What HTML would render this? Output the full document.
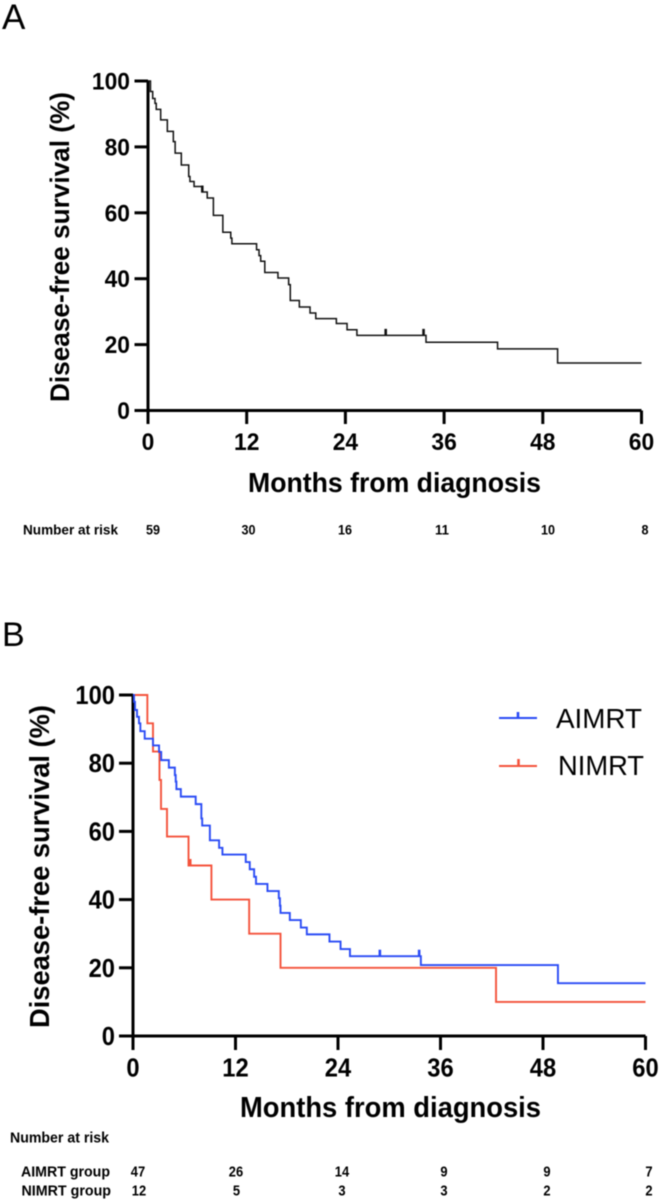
<!DOCTYPE html>
<html lang="en">
<head>
<meta charset="utf-8">
<title>Disease-free survival Kaplan-Meier curves</title>
<style>
html,body{margin:0;padding:0;background:#fff;width:661px;height:1201px;overflow:hidden}
svg{display:block;filter:blur(0.4px)}
text{font-family:"Liberation Sans",Arial,sans-serif;fill:#000}
.b{font-weight:700}
</style>
</head>
<body>
<svg id="figure" width="661" height="1201" viewBox="0 0 661 1201" xmlns="http://www.w3.org/2000/svg">
  <rect width="661" height="1201" fill="#fff"/>
  <text x="2" y="29" font-size="35">A</text>
  <text x="2" y="646" font-size="34">B</text>

  <g id="panelA"></g>
  <g id="panelB"></g>

  <text class="b" transform="translate(69,402) rotate(-90)" font-size="27" textLength="310" lengthAdjust="spacingAndGlyphs">Disease-free survival (%)</text>
  <text class="b" x="248" y="492" font-size="27.5" textLength="293" lengthAdjust="spacingAndGlyphs">Months from diagnosis</text>
  <text class="b" x="23" y="534.5" font-size="14" textLength="95" lengthAdjust="spacingAndGlyphs">Number at risk</text>

  <text class="b" transform="translate(49,1028) rotate(-90)" font-size="28" textLength="323" lengthAdjust="spacingAndGlyphs">Disease-free survival (%)</text>
  <text class="b" x="240" y="1117" font-size="29" textLength="301" lengthAdjust="spacingAndGlyphs">Months from diagnosis</text>
  <text class="b" x="10" y="1142.5" font-size="14.5" textLength="99" lengthAdjust="spacingAndGlyphs">Number at risk</text>
  <text class="b" x="21" y="1176.5" font-size="14.5" textLength="89" lengthAdjust="spacingAndGlyphs">AIMRT group</text>
  <text class="b" x="21.5" y="1195.5" font-size="14.5" textLength="89.5" lengthAdjust="spacingAndGlyphs">NIMRT group</text>

  <g>
    <g>
      <path d="M499 718H537" fill="none" stroke="#2a4bf5" stroke-width="2"/>
      <path d="M518 718V712" fill="none" stroke="#2a4bf5" stroke-width="2.6"/>
      <text x="556" y="728" font-size="28" textLength="86" lengthAdjust="spacingAndGlyphs">AIMRT</text>
    </g>
    <g>
      <path d="M499 766H537" fill="none" stroke="#f4533c" stroke-width="2"/>
      <path d="M518.5 766V759" fill="none" stroke="#f4533c" stroke-width="2.6"/>
      <text x="558" y="775" font-size="28" textLength="86" lengthAdjust="spacingAndGlyphs">NIMRT</text>
    </g>
  </g>
</svg>
<script>
const xTickLabels = [0, 12, 24, 36, 48, 60];
const yTickLabels = [0, 20, 40, 60, 80, 100];

const overallMonths = [0.3,0.57,0.85,1.0,1.54,2.35,3.08,3.3,4.05,4.95,5.1,5.6,6.55,7.2,7.95,9.1,10.06,10.2,13.2,13.5,13.7,14.2,15.8,17.1,17.3,18.4,19.7,20.4,22.9,24.2,25.4,33.8,42.5,49.8];
const overallSurvival = [96.8,94.7,93.2,91.4,88.2,84.7,81.6,78.1,74.5,71,69.5,68,66.3,64.5,59.2,54.1,52.3,50.6,48.8,47,45.3,41.9,40.2,38.2,33.4,31.4,29.6,27.9,26.4,24.5,22.8,20.7,18.7,14.4];
const overallCensored = [6.6, 28.9, 33.5];
const overallRisk = [59, 30, 16, 11, 10, 8];

const aimrtMonths = [0.12,0.23,0.47,0.7,0.86,1.37,2.34,3.05,3.3,4.2,4.9,5.0,5.08,5.6,7.34,8.0,8.1,9.0,10.08,10.47,13.2,13.67,14.18,14.4,15.74,17.07,17.2,17.27,18.36,19.65,20.35,23.0,24.3,25.4,33.7,49.75];
const aimrtSurvival = [98,95.6,93.6,91.7,89.4,87.2,85.2,83.3,80.9,78.7,76.5,74.6,72.4,70.2,68,63.8,61.7,57.4,55.2,53.2,51,48.9,46.7,44.6,42.5,40.4,38.2,36.1,34,31.8,29.8,27.7,25.5,23.4,20.8,15.5];
const aimrtCensored = [28.9, 33.5];
const aimrtRisk = [47, 26, 14, 9, 9, 7];

const nimrtMonths = [1.68,2.34,3.1,3.28,3.98,6.5,9.18,13.6,17.27,42.5];
const nimrtSurvival = [91.7,83.4,75.1,66.6,58.5,50,40,30,20,10];
const nimrtCensored = [6.7];
const nimrtRisk = [12, 5, 3, 3, 2, 2];

const NS = 'http://www.w3.org/2000/svg';

function scale(d0, d1, r0, r1) {
  return function (v) { return r0 + (v - d0) * (r1 - r0) / (d1 - d0); };
}

function drawLine(parent, d, color, width, name) {
  const p = document.createElementNS(NS, 'path');
  
  
  p.setAttribute('d', d);
  p.setAttribute('fill', 'none');
  p.setAttribute('stroke', color);
  p.setAttribute('stroke-width', width);
  parent.appendChild(p);
}

function drawText(parent, str, x, y, size, anchor, digitWidth, name) {
  const t = document.createElementNS(NS, 'text');
  
  
  t.setAttribute('class', 'b');
  t.setAttribute('x', x);
  t.setAttribute('y', y);
  t.setAttribute('font-size', size);
  t.setAttribute('text-anchor', anchor);
  t.setAttribute('textLength', str.length * digitWidth);
  t.setAttribute('lengthAdjust', 'spacingAndGlyphs');
  t.textContent = str;
  parent.appendChild(t);
}

function drawAxes(parent, x, y, tickLen, labelSize, digitWidth, yLabelX, xLabelY, axisWidth, digitShift) {
  const bx = x(0), by = y(0);
  drawLine(parent, 'M' + bx + ' ' + y(100) + 'V' + by + 'M' + x(0) + ' ' + by + 'H' + x(60), '#000', axisWidth, 'axis-lines');
  yTickLabels.forEach(function (v) {
    drawLine(parent, 'M' + (bx - tickLen) + ' ' + y(v) + 'H' + bx, '#000', axisWidth, 'y-tick-' + v);
    drawText(parent, String(v), yLabelX, y(v) + digitShift, labelSize, 'end', digitWidth, 'y-tick-label-' + v);
  });
  xTickLabels.forEach(function (v) {
    drawLine(parent, 'M' + x(v) + ' ' + by + 'V' + (by + tickLen), '#000', axisWidth, 'x-tick-' + v);
    drawText(parent, String(v), x(v), xLabelY, labelSize, 'middle', digitWidth, 'x-tick-label-' + v);
  });
}

function drawCurve(parent, x, y, months, survival, censored, color, width, markHeight, name) {
  let d = 'M' + x(0) + ' ' + y(100);
  months.forEach(function (m, i) {
    d += 'H' + x(m) + 'V' + y(survival[i]);
  });
  d += 'H' + x(60);
  drawLine(parent, d, color, width, name + '-curve');
  censored.forEach(function (c, i) {
    let level = 100;
    months.forEach(function (m, k) {
      if (m <= c) { level = survival[k]; }
    });
    drawLine(parent, 'M' + x(c) + ' ' + y(level) + 'V' + (y(level) - markHeight), color, 2.6, name + '-censor-mark-' + i);
  });
}

function drawRisk(parent, values, centers, rowY, size, digitWidth, name) {
  values.forEach(function (v, i) {
    drawText(parent, String(v), centers[i], rowY, size, 'middle', digitWidth, name + '-risk-' + xTickLabels[i]);
  });
}

const panelA = document.getElementById('panelA');
const xA = scale(0, 60, 148, 641.5);
const yA = scale(0, 100, 410.5, 81);
drawAxes(panelA, xA, yA, 13.5, 24.5, 12.7, 130, 450, 3, 8.5);
drawCurve(panelA, xA, yA, overallMonths, overallSurvival, overallCensored, '#111', 1.5, 6.5, 'overall');
drawRisk(panelA, overallRisk, [153, 248.5, 345, 442, 548, 645], 534.5, 14, 7, 'overall');

const panelB = document.getElementById('panelB');
const xB = scale(0, 60, 133, 645.5);
const yB = scale(0, 100, 1036, 695);
drawAxes(panelB, xB, yB, 14, 25.5, 13.2, 115, 1076.5, 3, 9);
drawCurve(panelB, xB, yB, nimrtMonths, nimrtSurvival, nimrtCensored, '#f4533c', 1.9, 6.5, 'nimrt');
drawCurve(panelB, xB, yB, aimrtMonths, aimrtSurvival, aimrtCensored, '#2a4bf5', 1.9, 6.5, 'aimrt');
drawRisk(panelB, aimrtRisk, [138, 236, 342, 444, 547, 649], 1176.5, 14.5, 7.2, 'aimrt');
drawRisk(panelB, nimrtRisk, [139, 236.5, 342, 444, 547, 649], 1195.5, 14.5, 7.2, 'nimrt');
</script>
</body>
</html>
